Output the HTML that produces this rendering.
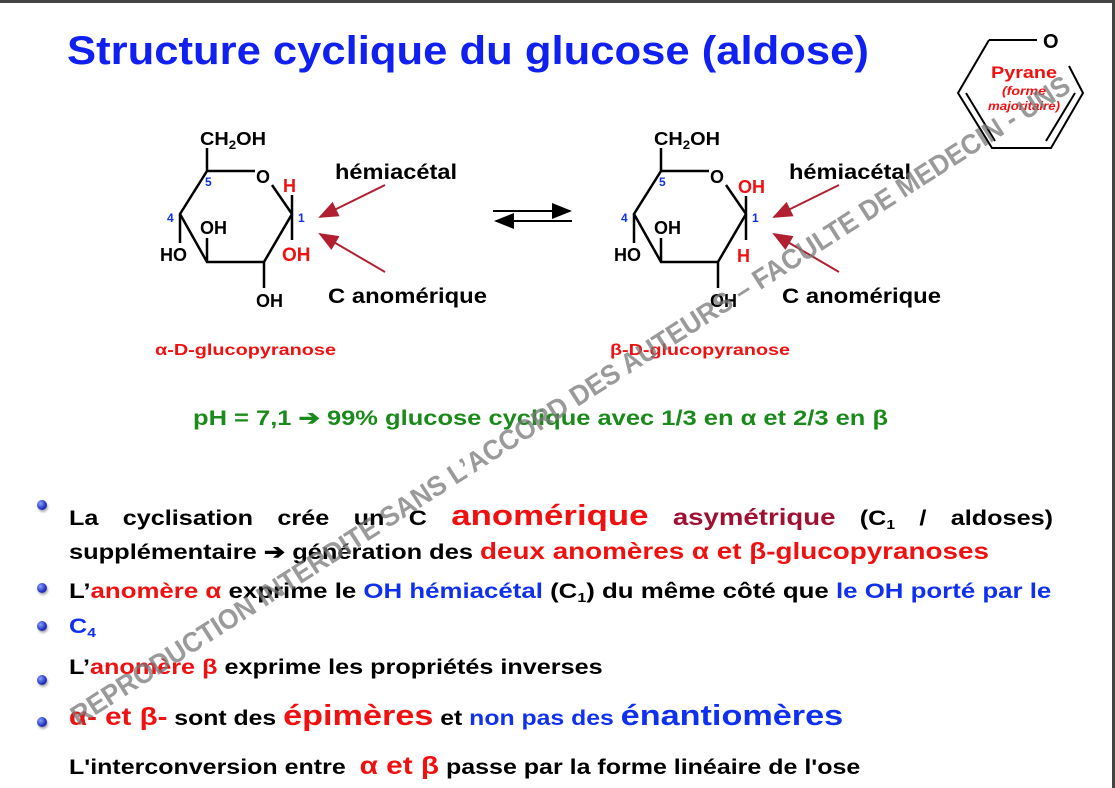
<!DOCTYPE html>
<html><head><meta charset="utf-8"><style>
html,body{margin:0;padding:0;}
body{width:1115px;height:788px;position:relative;overflow:hidden;background:#fff;font-family:"Liberation Sans",Arial,sans-serif;font-weight:bold;}
.a{position:absolute;white-space:nowrap;transform-origin:left top;}
.r{color:#f01010}.b{color:#1030f0}.dr{color:#a01030}.k{color:#000}
.dot{position:absolute;width:10px;height:10px;border-radius:50%;background:radial-gradient(circle at 35% 35%,#8aa0ff,#2030c0 60%,#101880);box-shadow:1px 2px 2px #aaa;}
.t{font-size:21px;transform:scaleX(1.2);}
sub{font-size:13px;vertical-align:-4px;}
</style></head><body>
<div style="position:absolute;left:0;top:0;width:1115px;height:3px;background:#444;"></div>
<div style="position:absolute;left:1112px;top:0;width:3px;height:788px;background:#444;"></div>

<div class="a" style="left:67px;top:29px;font-size:40px;color:#1020f0;transform:scaleX(1.09);">Structure cyclique du glucose (aldose)</div>

<svg width="1115" height="788" style="position:absolute;left:0;top:0" font-family="Liberation Sans,Arial,sans-serif" font-weight="bold">
<defs><marker id="m" markerWidth="10" markerHeight="8" refX="9" refY="4" orient="auto"><path d="M0,0 L10,4 L0,8 z" fill="#b02030"/></marker>
<marker id="mk" markerWidth="10" markerHeight="8" refX="9" refY="4" orient="auto"><path d="M0,0 L10,4 L0,8 z" fill="#000"/></marker></defs>
<g stroke="#000" stroke-width="2.5" fill="none">
<path d="M207,171 L255,171 M272,185 L292,214 L264,262 L207,262 L180,214 L207,171 M207,171 L207,148 M292,214 L292,195 M292,214 L292,240 M264,262 L264,288 M207,262 L207,238 M180,214 L180,243"/>
<path transform="translate(454,0)" d="M207,171 L255,171 M272,185 L292,214 L264,262 L207,262 L180,214 L207,171 M207,171 L207,148 M292,214 L292,196 M292,214 L292,240 M264,262 L264,288 M207,262 L207,238 M180,214 L180,243"/>
<path d="M493,211 L570,211" marker-end="url(#mk)" stroke-width="2"/>
<path d="M572,221 L496,221" marker-end="url(#mk)" stroke-width="2"/>
<path d="M989,40 L1037,40 M1069,66 L1083,93 L1051,148 L992,148 L958,93 L989,40 M966,93 L995,141 M1075,93 L1046,141" stroke-width="2"/>
</g>
<g stroke="#b02030" stroke-width="2">
<line x1="385" y1="185" x2="320" y2="217" marker-end="url(#m)"/>
<line x1="385" y1="272" x2="320" y2="234" marker-end="url(#m)"/>
<line x1="839" y1="185" x2="774" y2="217" marker-end="url(#m)"/>
<line x1="839" y1="272" x2="774" y2="234" marker-end="url(#m)"/>
</g>
<g font-size="18">
<text x="200" y="145" textLength="66" lengthAdjust="spacingAndGlyphs">CH<tspan font-size="12" dy="4">2</tspan><tspan dy="-4">OH</tspan></text>
<text x="256" y="183">O</text>
<text x="283" y="192" fill="#f01010">H</text>
<text x="282" y="261" fill="#f01010" font-size="19">OH</text>
<text x="256" y="307">OH</text>
<text x="200" y="234">OH</text>
<text x="160" y="261">HO</text>
<text x="654" y="145" textLength="66" lengthAdjust="spacingAndGlyphs">CH<tspan font-size="12" dy="4">2</tspan><tspan dy="-4">OH</tspan></text>
<text x="710" y="183">O</text>
<text x="738" y="193" fill="#f01010">OH</text>
<text x="737" y="262" fill="#f01010">H</text>
<text x="710" y="307">OH</text>
<text x="654" y="234">OH</text>
<text x="614" y="261">HO</text>
</g>
<g font-size="12" fill="#1030f0">
<text x="205" y="186">5</text><text x="167" y="222">4</text><text x="298" y="222">1</text>
<text x="659" y="186">5</text><text x="621" y="222">4</text><text x="752" y="222">1</text>
</g>
<g font-size="21">
<text x="335" y="179" textLength="122" lengthAdjust="spacingAndGlyphs">hémiacétal</text><text x="328" y="303" textLength="159" lengthAdjust="spacingAndGlyphs">C anomérique</text>
<text x="789" y="179" textLength="122" lengthAdjust="spacingAndGlyphs">hémiacétal</text><text x="782" y="303" textLength="159" lengthAdjust="spacingAndGlyphs">C anomérique</text>
</g>
<g font-size="16" fill="#f01010">
<text x="155" y="355" textLength="181" lengthAdjust="spacingAndGlyphs">α-D-glucopyranose</text>
<text x="610" y="355" textLength="180" lengthAdjust="spacingAndGlyphs">β-D-glucopyranose</text>
<text x="991" y="78" font-size="17" textLength="66" lengthAdjust="spacingAndGlyphs">Pyrane</text>
<text x="1002" y="95" font-size="12" font-style="italic" textLength="44" lengthAdjust="spacingAndGlyphs">(forme</text>
<text x="988" y="110" font-size="12" font-style="italic" textLength="72" lengthAdjust="spacingAndGlyphs">majoritaire)</text>
</g>
<text x="1043" y="48" font-size="20">O</text>
<text x="193" y="425" font-size="21" fill="#1a8a1a" textLength="695" lengthAdjust="spacingAndGlyphs">pH = 7,1 ➔ 99% glucose cyclique avec 1/3 en α et 2/3 en β</text>
</svg>

<div class="dot" style="left:37px;top:500px"></div>
<div class="dot" style="left:37px;top:583px"></div>
<div class="dot" style="left:37px;top:621px"></div>
<div class="dot" style="left:37px;top:675px"></div>
<div class="dot" style="left:37px;top:717px"></div>

<div class="a t" style="left:69px;top:500px;width:820px;display:flex;justify-content:space-between;align-items:baseline;">
<span>La</span><span>cyclisation</span><span>crée</span><span>un</span><span>C</span><span class="r" style="font-size:29px">anomérique</span><span class="dr" style="font-size:23px">asymétrique</span><span>(C<sub>1</sub></span><span>/</span><span>aldoses)</span></div>
<div class="a t" style="left:69px;top:538px;transform:scaleX(1.21)">supplémentaire ➔ génération des <span class="r" style="font-size:23px">deux anomères α et β-glucopyranoses</span></div>
<div class="a t" style="left:69px;top:580px;transform:scaleX(1.23)">L’<span class="r">anomère α</span> exprime le <span class="b">OH hémiacétal</span> (C<sub>1</sub>) du même côté que <span class="b">le OH porté par le</span></div>
<div class="a t b" style="left:69px;top:615px;">C<sub>4</sub></div>
<div class="a t" style="left:69px;top:656px;">L’<span class="r">anomère β</span> exprime les propriétés inverses</div>
<div class="a t" style="left:69px;top:700px;transform:scaleX(1.18)"><span class="r" style="font-size:25px">α- et β-</span> sont des <span class="r" style="font-size:29px">épimères</span> et <span class="b">non pas des</span> <span class="b" style="font-size:29px">énantiomères</span></div>
<div class="a t" style="left:69px;top:752px;transform:scaleX(1.19)">L'interconversion entre &nbsp;<span class="r" style="font-size:25px">α et β</span> passe par la forme linéaire de l'ose</div>

<svg width="1115" height="788" style="position:absolute;left:0;top:0;pointer-events:none" font-family="Liberation Sans,Arial,sans-serif" font-weight="bold">
<text x="570" y="410" text-anchor="middle" font-size="28" fill="rgba(120,120,120,0.75)" transform="rotate(-32.6 570 400)" textLength="1180" lengthAdjust="spacingAndGlyphs">REPRODUCTION INTERDITE SANS L’ACCORD DES AUTEURS – FACULTE DE MEDECIN - UNS</text>
</svg>
</body></html>
